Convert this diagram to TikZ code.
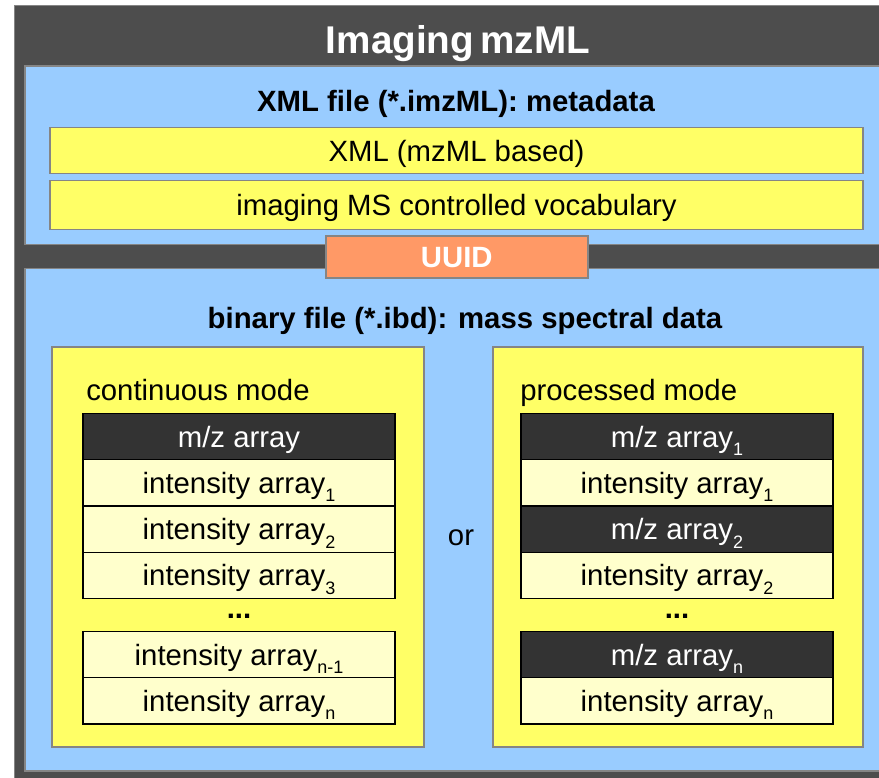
\documentclass[tikz,border=0pt]{standalone}
\usepackage{fontspec}
\setmainfont{Liberation Sans}
\usetikzlibrary{positioning}

\definecolor{framegray}{HTML}{4D4D4D}
\definecolor{edgegray}{HTML}{858585}
\definecolor{panelblue}{HTML}{99CCFF}
\definecolor{boxyellow}{HTML}{FFFF66}
\definecolor{rowlight}{HTML}{FFFFCC}
\definecolor{rowdark}{HTML}{333333}
\definecolor{uuidorange}{HTML}{FF9966}

\newcommand{\arrsub}[1]{\raisebox{-6.5pt}{\fontsize{13.5}{15}\selectfont #1}}

\tikzset{
  capcentre/.style={text height=#1, text depth=0pt},
  capcentre/.default=15.8pt,
  panel/.style={draw=edgegray, line width=1.2pt, fill=panelblue},
  bar/.style={draw=edgegray, line width=1.2pt, fill=boxyellow, minimum width=609.75pt,
    inner sep=0pt, capcentre, font=\fontsize{22}{26}\selectfont},
  modebox/.style={draw=edgegray, line width=1.2pt, fill=boxyellow},
  mzrow/.style={draw=black, line width=1pt, fill=rowdark, text=white, minimum width=234pt,
    minimum height=34.7pt, inner sep=0pt, outer sep=0pt, capcentre, font=\fontsize{22}{26}\selectfont},
  introw/.style={mzrow, fill=rowlight, text=black},
  heading/.style={capcentre, font=\bfseries\fontsize{22}{26}\selectfont},
  plain/.style={capcentre, font=\fontsize{22}{26}\selectfont}
}

\begin{document}
\begin{tikzpicture}[x=0.75pt, y=-0.75pt]
  \useasboundingbox (0,0) rectangle (879,778);
  % outer frame and the two panels
  \fill[draw=edgegray, line width=1.2pt, fill=framegray] (14.5,5.5) rectangle (900,800);
  \node[capcentre=20.9pt, font=\bfseries\fontsize{29}{33}\selectfont, text=white] (title) at (458,40) {Imaging\,mzML};
  \draw[panel] (25,66) rectangle (900,244.5);
  \draw[panel] (25,268.5) rectangle (900,771);

  % metadata part
  \node[heading] (xmlhead) at (456,101) {XML file (*.imzML): metadata};
  \node[bar, minimum height=34.5pt] (xmlbar) at (456.5,150.5) {XML (mzML based)};
  \node[bar, minimum height=37pt] (cvbar) at (456.5,205) {imaging MS controlled vocabulary};
  \node[draw=edgegray, line width=1.2pt, fill=uuidorange, text=white, minimum width=196.5pt,
    minimum height=31.5pt, inner sep=0pt, capcentre, font=\bfseries\fontsize{22}{26}\selectfont] (uuid) at (456.75,257) {UUID};

  % binary part
  \node[heading] (ibdhead) at (465,318) {binary file (*.ibd): mass spectral data};
  \draw[modebox] (52,347) rectangle (424,747);
  \draw[modebox] (493,347) rectangle (863,747);
  \node[plain, anchor=west, inner sep=0pt] (contmode) at (86,390) {continuous mode};
  \node[plain, anchor=west, inner sep=0pt] (procmode) at (520,390) {processed mode};
  \node[plain] (or) at (461,535) {or};

  % continuous mode
  \node[mzrow] (l1) at (239,436.5) {m/z array};
  \node[introw, below=0pt of l1] (l2) {intensity array\arrsub{1}};
  \node[introw, below=0pt of l2] (l3) {intensity array\arrsub{2}};
  \node[introw, below=0pt of l3] (l4) {intensity array\arrsub{3}};
  \node[font=\bfseries\fontsize{22}{26}\selectfont] (ldots) at (239,616) {...};
  \node[introw] (l5) at (239,654.5) {intensity array\arrsub{n-1}};
  \node[introw, below=0pt of l5] (l6) {intensity array\arrsub{n}};

  % processed mode
  \node[mzrow] (r1) at (677,436.5) {m/z array\arrsub{1}};
  \node[introw, below=0pt of r1] (r2) {intensity array\arrsub{1}};
  \node[mzrow, below=0pt of r2] (r3) {m/z array\arrsub{2}};
  \node[introw, below=0pt of r3] (r4) {intensity array\arrsub{2}};
  \node[font=\bfseries\fontsize{22}{26}\selectfont] (rdots) at (677,616) {...};
  \node[mzrow] (r5) at (677,654.5) {m/z array\arrsub{n}};
  \node[introw, below=0pt of r5] (r6) {intensity array\arrsub{n}};
\end{tikzpicture}
\end{document}
